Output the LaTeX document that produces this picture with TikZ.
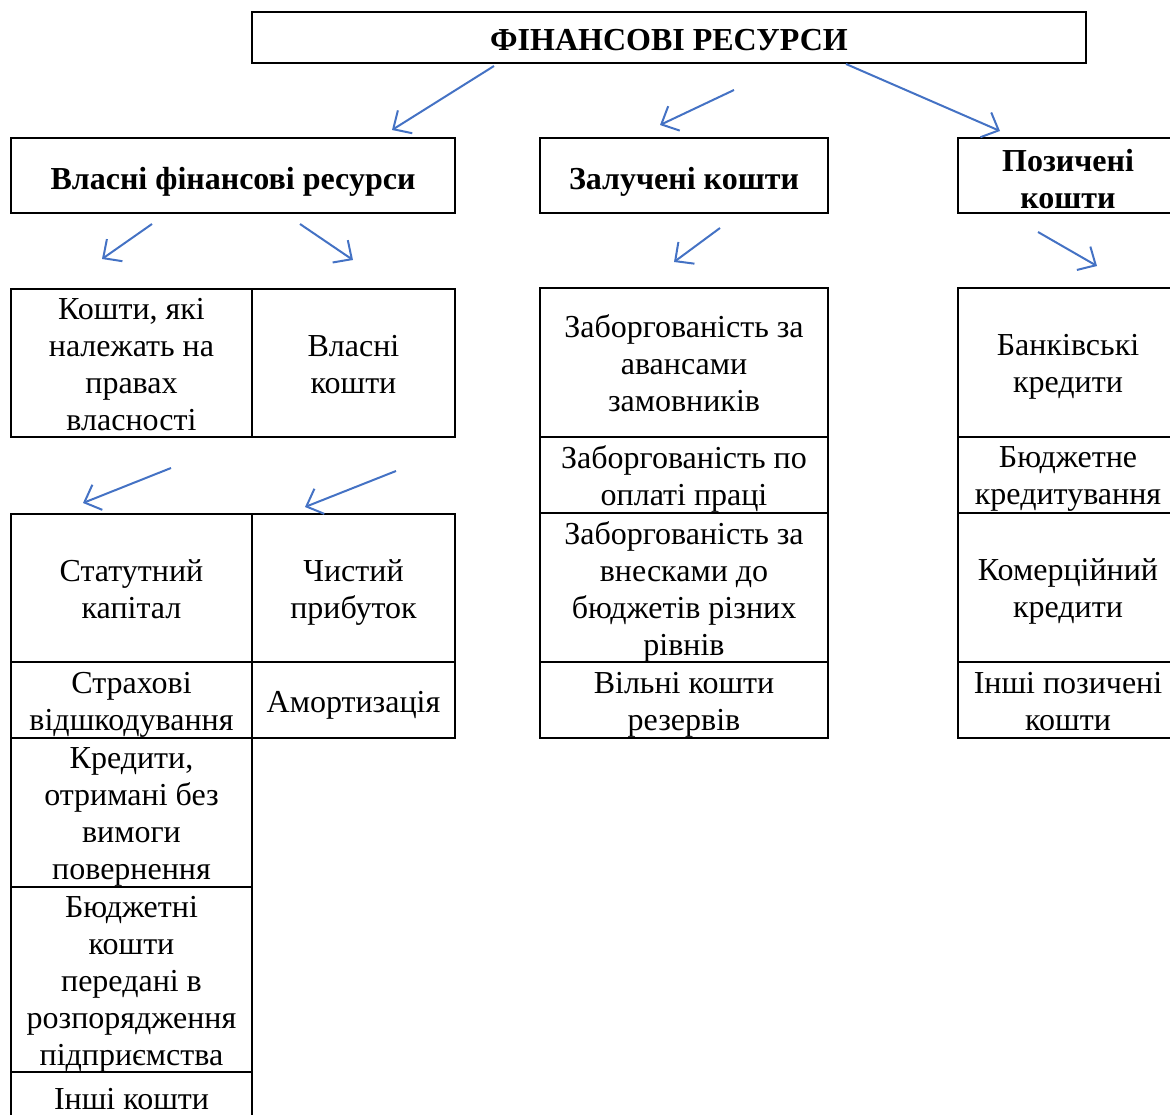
\documentclass[tikz,border=0pt]{standalone}
\usepackage{fontspec}
\setmainfont{Liberation Serif}
\usetikzlibrary{arrows.meta}
\definecolor{arrowblue}{HTML}{4472C4}
% line box so every cell text sits the same way
\newcommand\cellstrut{\rule[-8pt]{0pt}{40pt}}
\tikzset{
  frame/.style={draw=black, line width=2.2pt, inner sep=0pt},
  txt/.style={align=center, inner sep=0pt, font=\fontsize{32}{37}\selectfont,
    execute at begin node=\cellstrut},
  headtxt/.style={txt, font=\fontsize{32}{37}\selectfont\bfseries, yshift=-2pt},
  multi/.style={yshift=-5pt},
  link/.style={draw=arrowblue, line width=2pt,
    -{Straight Barb[length=14pt,width=27pt,line width=2pt]}},
}
\begin{document}
\begin{tikzpicture}[x=1pt,y=-1pt]
\useasboundingbox (0,0) rectangle (1170,1115);
\clip (0,0) rectangle (1170,1115);

% top level
\node[frame, minimum width=834pt, minimum height=51pt] (top) at (669,37.5) {};
\node[headtxt, yshift=1pt] (topt) at (top) {ФІНАНСОВІ РЕСУРСИ};

% three groups
\node[frame, minimum width=444pt, minimum height=75pt] (own) at (233,175.5) {};
\node[headtxt] (ownt) at (own) {Власні фінансові ресурси};
\node[frame, minimum width=288pt, minimum height=75pt] (attr) at (684,175.5) {};
\node[headtxt] (attrt) at (attr) {Залучені кошти};
\node[frame, minimum width=220pt, minimum height=75pt] (borr) at (1068,175.5) {};
\node[headtxt, multi] (borrt) at (borr) {Позичені\\кошти};

% own resources: first table
\node[frame, minimum width=241pt, minimum height=148pt] (a1) at (131.5,363) {};
\node[txt, multi] (a1t) at (a1) {Кошти, які\\належать на\\правах\\власності};
\node[frame, minimum width=203pt, minimum height=148pt] (a2) at (353.5,363) {};
\node[txt, multi] (a2t) at (a2) {Власні\\кошти};

% own resources: second table
\node[frame, minimum width=241pt, minimum height=148pt] (b1) at (131.5,588) {};
\node[txt, multi] (b1t) at (b1) {Статутний\\капітал};
\node[frame, minimum width=203pt, minimum height=148pt] (b2) at (353.5,588) {};
\node[txt, multi] (b2t) at (b2) {Чистий\\прибуток};
\node[frame, minimum width=241pt, minimum height=76pt] (c1) at (131.5,700) {};
\node[txt, multi] (c1t) at (c1) {Страхові\\відшкодування};
\node[frame, minimum width=203pt, minimum height=76pt] (c2) at (353.5,700) {};
\node[txt] (c2t) at (c2) {Амортизація};
\node[frame, minimum width=241pt, minimum height=149pt] (d1) at (131.5,812.5) {};
\node[txt, multi] (d1t) at (d1) {Кредити,\\отримані без\\вимоги\\повернення};
\node[frame, minimum width=241pt, minimum height=185pt] (e1) at (131.5,979.5) {};
\node[txt, multi] (e1t) at (e1) {Бюджетні\\кошти\\передані в\\розпорядження\\підприємства};
\node[frame, minimum width=241pt, minimum height=50pt] (f1) at (131.5,1097) {};
\node[txt] (f1t) at (f1) {Інші кошти};

% attracted funds
\node[frame, minimum width=288pt, minimum height=149pt] (m1) at (684,362.5) {};
\node[txt, multi] (m1t) at (m1) {Заборгованість за\\авансами\\замовників};
\node[frame, minimum width=288pt, minimum height=76pt] (m2) at (684,475) {};
\node[txt, multi] (m2t) at (m2) {Заборгованість по\\оплаті праці};
\node[frame, minimum width=288pt, minimum height=149pt] (m3) at (684,587.5) {};
\node[txt, multi] (m3t) at (m3) {Заборгованість за\\внесками до\\бюджетів різних\\рівнів};
\node[frame, minimum width=288pt, minimum height=76pt] (m4) at (684,700) {};
\node[txt, multi] (m4t) at (m4) {Вільні кошти\\резервів};

% borrowed funds
\node[frame, minimum width=220pt, minimum height=149pt] (r1) at (1068,362.5) {};
\node[txt, multi] (r1t) at (r1) {Банківські\\кредити};
\node[frame, minimum width=220pt, minimum height=76pt] (r2) at (1068,475) {};
\node[txt, multi] (r2t) at (r2) {Бюджетне\\кредитування};
\node[frame, minimum width=220pt, minimum height=149pt] (r3) at (1068,587.5) {};
\node[txt, multi] (r3t) at (r3) {Комерційний\\кредити};
\node[frame, minimum width=220pt, minimum height=76pt] (r4) at (1068,700) {};
\node[txt, multi] (r4t) at (r4) {Інші позичені\\кошти};

% arrow end points
\coordinate (t1s) at (494,66);   \coordinate (t1e) at (392,130);
\coordinate (t2s) at (734,90);   \coordinate (t2e) at (660,125);
\coordinate (t3s) at (846,64);   \coordinate (t3e) at (1000,131);
\coordinate (o1s) at (152,224);  \coordinate (o1e) at (102,259);
\coordinate (o2s) at (300,224);  \coordinate (o2e) at (353,260);
\coordinate (z1s) at (720,228);  \coordinate (z1e) at (674,262);
\coordinate (p1s) at (1038,232); \coordinate (p1e) at (1097,266);
\coordinate (v1s) at (171,468);  \coordinate (v1e) at (83,503);
\coordinate (v2s) at (396,471);  \coordinate (v2e) at (305,507);

\draw[link] (t1s) -- (t1e);
\draw[link] (t2s) -- (t2e);
\draw[link] (t3s) -- (t3e);
\draw[link] (o1s) -- (o1e);
\draw[link] (o2s) -- (o2e);
\draw[link] (z1s) -- (z1e);
\draw[link] (p1s) -- (p1e);
\draw[link] (v1s) -- (v1e);
\draw[link] (v2s) -- (v2e);
\end{tikzpicture}
\end{document}
